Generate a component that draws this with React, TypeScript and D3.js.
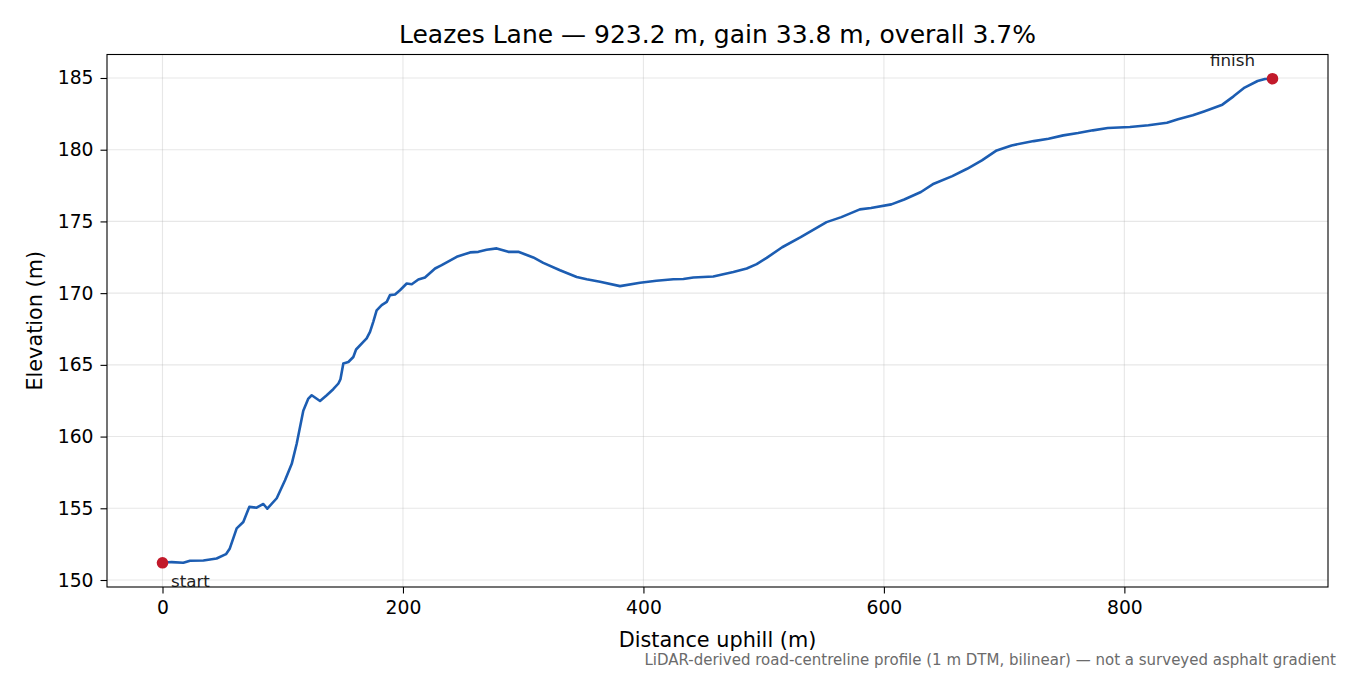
import { useRef, useEffect } from 'react';
import * as d3 from 'd3';

// distance along the lane (m) and elevation (m)
const distance = [
    0, 7.6, 17.3, 22.9, 34, 45, 52.8, 56, 61.7, 67.2,
    72.2, 78.3, 83.9, 87.2, 95, 101.9, 107.5, 111.6, 117.1, 121.3,
    124.1, 131, 136.6, 142, 146.3, 148, 150.4, 154.6, 158.7, 161,
    167, 169.8, 172.6, 175.3, 178.1, 182.3, 186.5, 189.2, 193.4, 197.5,
    203.1, 207.3, 212.8, 218.3, 226.7, 232.2, 244.7, 255.8, 262.7, 269.6,
    278, 287.6, 295.9, 308.4, 316.7, 330.6, 344.5, 352.8, 363.9, 380.5,
    397.2, 410.8, 424.9, 433.2, 441.5, 458.1, 466.4, 474.8, 485.9, 494.2,
    502.5, 515.4, 530.8, 552.3, 564.6, 580, 589.2, 606.2, 616.9, 630.8,
    641.5, 656.9, 669.2, 681.5, 693.8, 706.2, 724.6, 736.9, 749.2, 761.5,
    773.8, 786.2, 804.6, 820, 835.4, 844.6, 856.9, 866.2, 881.5, 890.8,
    900, 910.8, 916.9, 923.2,
];
const elevation = [
    151.2, 151.25, 151.2, 151.34, 151.36, 151.5, 151.8, 152.2, 153.6, 154.04,
    155.1, 155.04, 155.3, 154.97, 155.7, 156.95, 158.1, 159.5, 161.8, 162.65,
    162.88, 162.48, 162.88, 163.3, 163.7, 164.0, 165.1, 165.2, 165.55, 166.07,
    166.6, 166.84, 167.3, 168.0, 168.8, 169.16, 169.39, 169.86, 169.9, 170.2,
    170.67, 170.62, 170.95, 171.09, 171.72, 171.95, 172.53, 172.84, 172.88, 173.02,
    173.12, 172.88, 172.88, 172.49, 172.11, 171.6, 171.13, 170.97, 170.79, 170.49,
    170.72, 170.86, 170.97, 170.99, 171.09, 171.16, 171.32, 171.48, 171.72, 172.02,
    172.46, 173.2, 173.9, 174.95, 175.3, 175.84, 175.93, 176.19, 176.53, 177.05,
    177.63, 178.16, 178.67, 179.26, 179.95, 180.3, 180.6, 180.77, 181.0, 181.16,
    181.35, 181.51, 181.58, 181.7, 181.88, 182.12, 182.4, 182.67, 183.14, 183.72,
    184.33, 184.79, 184.93, 184.95,
];
const xTicks = [0, 200, 400, 600, 800];
const yTicks = [150, 155, 160, 165, 170, 175, 180, 185];

const title = 'Leazes Lane — 923.2 m, gain 33.8 m, overall 3.7%';
const note = 'LiDAR-derived road-centreline profile (1 m DTM, bilinear) — not a surveyed asphalt gradient';

const FONT = '"DejaVu Sans", sans-serif';

const ElevationProfile = () => {
    const chartRef = useRef<SVGSVGElement>(null);

    useEffect(() => {
        if (!chartRef.current) return;
        d3.select(chartRef.current).selectAll('*').remove();

        const W = 1350, H = 675;
        const margin = { top: 54.5, right: 22, bottom: 88, left: 107 };
        const width = W - margin.left - margin.right;
        const height = H - margin.top - margin.bottom;

        const pts = distance.map((d, i) => ({ d, e: elevation[i] }));

        // matplotlib-style 5% padding
        const [x0, x1] = d3.extent(distance) as [number, number];
        const [y0, y1] = d3.extent(elevation) as [number, number];
        const px = (x1 - x0) * 0.05, py = (y1 - y0) * 0.05;

        const x = d3.scaleLinear().domain([x0 - px, x1 + px]).range([0, width]);
        const y = d3.scaleLinear().domain([y0 - py, y1 + py]).range([height, 0]);

        const svg = d3.select(chartRef.current)
            .attr('width', W)
            .attr('height', H)
            .style('font-family', FONT);

        svg.append('rect').attr('width', W).attr('height', H).attr('fill', 'white');

        const g = svg.append('g').attr('transform', `translate(${margin.left},${margin.top})`);

        // grid
        g.append('g').selectAll('line').data(xTicks).enter().append('line')
            .attr('x1', d => x(d)).attr('x2', d => x(d))
            .attr('y1', 0).attr('y2', height)
            .attr('stroke', '#b0b0b0').attr('stroke-opacity', 0.3).attr('stroke-width', 1.1);
        g.append('g').selectAll('line').data(yTicks).enter().append('line')
            .attr('y1', d => y(d)).attr('y2', d => y(d))
            .attr('x1', 0).attr('x2', width)
            .attr('stroke', '#b0b0b0').attr('stroke-opacity', 0.3).attr('stroke-width', 1.1);

        // axes
        const xAxis = g.append('g')
            .attr('transform', `translate(0,${height})`)
            .call(d3.axisBottom(x).tickValues(xTicks).tickSize(6.5).tickPadding(7).tickFormat(d3.format('d')));
        const yAxis = g.append('g')
            .call(d3.axisLeft(y).tickValues(yTicks).tickSize(6.5).tickPadding(7).tickFormat(d3.format('d')));
        [xAxis, yAxis].forEach(a => {
            a.select('.domain').remove();
            a.selectAll('line').attr('stroke', '#000').attr('stroke-width', 1.1);
            a.selectAll('text').attr('font-size', 18.75).attr('font-family', FONT).attr('fill', '#000');
        });

        // profile line
        const line = d3.line<{ d: number; e: number }>()
            .x(p => x(p.d))
            .y(p => y(p.e));
        g.append('path')
            .datum(pts)
            .attr('fill', 'none')
            .attr('stroke', '#1c5db2')
            .attr('stroke-width', 2.6)
            .attr('stroke-linejoin', 'round')
            .attr('d', line);

        // start / finish markers
        const ends = [pts[0], pts[pts.length - 1]];
        g.selectAll('circle.end').data(ends).enter().append('circle')
            .attr('class', 'end')
            .attr('cx', p => x(p.d)).attr('cy', p => y(p.e))
            .attr('r', 5.8)
            .attr('fill', '#c21a2b');

        g.append('text')
            .attr('x', x(ends[0].d) + 8.5).attr('y', y(ends[0].e) + 24)
            .attr('font-size', 16.7).attr('fill', '#222')
            .text('start');
        g.append('text')
            .attr('x', x(ends[1].d) - 40).attr('y', y(ends[1].e) - 12.5)
            .attr('text-anchor', 'middle')
            .attr('font-size', 16.7).attr('fill', '#222')
            .text('finish');

        // frame
        g.append('rect')
            .attr('width', width).attr('height', height)
            .attr('fill', 'none').attr('stroke', '#000').attr('stroke-width', 1.1);

        // labels
        svg.append('text')
            .attr('x', margin.left + width / 2).attr('y', 42.5)
            .attr('text-anchor', 'middle').attr('font-size', 25)
            .text(title);
        svg.append('text')
            .attr('x', margin.left + width / 2).attr('y', 646.5)
            .attr('text-anchor', 'middle').attr('font-size', 20.8)
            .text('Distance uphill (m)');
        svg.append('text')
            .attr('transform', `translate(42,${margin.top + height / 2}) rotate(-90)`)
            .attr('text-anchor', 'middle').attr('font-size', 20.8)
            .text('Elevation (m)');
        svg.append('text')
            .attr('x', 1336).attr('y', 665)
            .attr('text-anchor', 'end').attr('font-size', 15).attr('fill', '#6b6b6b')
            .text(note);
    }, []);

    return <svg ref={chartRef} style={{ display: 'block' }} />;
};

export default function App() {
    return (
        <div style={{ position: 'absolute', left: 0, top: 0 }}>
            <ElevationProfile />
        </div>
    );
}
